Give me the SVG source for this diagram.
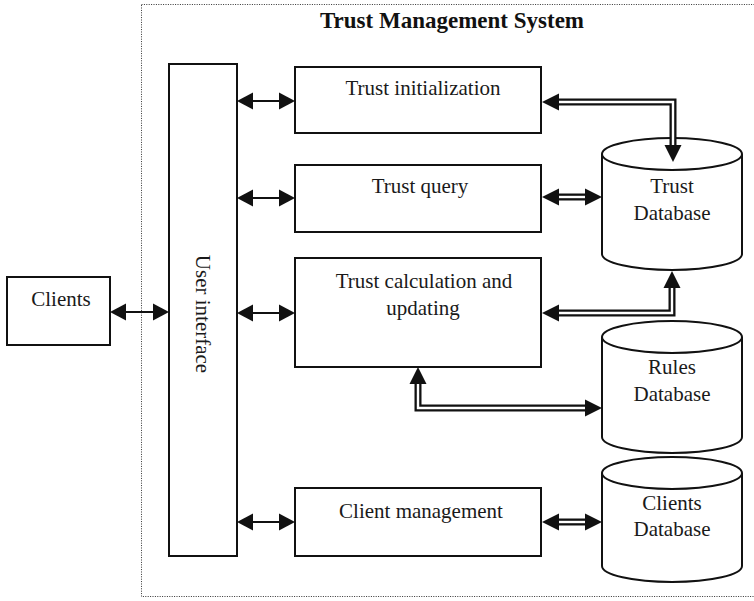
<svg xmlns="http://www.w3.org/2000/svg" width="754" height="601" viewBox="0 0 754 601">
  <defs>
    <style>
      .box { fill: #fff; stroke: #111; stroke-width: 2; }
      .db { fill: #fff; stroke: #111; stroke-width: 2; }
      .label { font-family: "Liberation Serif", "Times New Roman", serif; font-size: 21px; fill: #1a1a1a; text-anchor: middle; }
      .title { font-family: "Liberation Serif", "Times New Roman", serif; font-size: 23px; font-weight: bold; fill: #111; text-anchor: middle; }
      .frame { fill: none; stroke: #333; stroke-width: 1; stroke-dasharray: 1 1.4; }
      .single { fill: none; stroke: #111; stroke-width: 2.2; }
      .dbl-out { fill: none; stroke: #111; stroke-width: 7; stroke-linejoin: miter; }
      .dbl-in { fill: none; stroke: #fff; stroke-width: 2.4; stroke-linejoin: miter; }
      .head { fill: #111; }
    </style>
  </defs>

  <!-- system boundary -->
  <rect class="frame" x="141.5" y="4.5" width="640" height="592"/>
  <text class="title" x="452" y="28">Trust Management System</text>

  <!-- nodes -->
  <g id="clients">
    <rect class="box" x="7" y="277" width="103" height="68"/>
    <text class="label" x="61" y="306">Clients</text>
  </g>

  <g id="user-interface">
    <rect class="box" x="169" y="64" width="68" height="492"/>
    <text class="label" transform="translate(203 314) rotate(90)" y="7">User interface</text>
  </g>

  <g id="trust-initialization">
    <rect class="box" x="295" y="67" width="246" height="66"/>
    <text class="label" x="423" y="95">Trust initialization</text>
  </g>

  <g id="trust-query">
    <rect class="box" x="295" y="165" width="246" height="67"/>
    <text class="label" x="420" y="193">Trust query</text>
  </g>

  <g id="trust-calculation">
    <rect class="box" x="295" y="258" width="246" height="109"/>
    <text class="label" x="424" y="288">Trust calculation and</text>
    <text class="label" x="423" y="315">updating</text>
  </g>

  <g id="client-management">
    <rect class="box" x="295" y="488" width="246" height="68"/>
    <text class="label" x="421" y="518">Client management</text>
  </g>

  <g id="trust-database">
    <path class="db" d="M602,154 V254 A70,16 0 0 0 742,254 V154"/>
    <ellipse class="db" cx="672" cy="154" rx="70" ry="16"/>
    <text class="label" x="672" y="193">Trust</text>
    <text class="label" x="672" y="220">Database</text>
  </g>

  <g id="rules-database">
    <path class="db" d="M602,337 V437 A70,16 0 0 0 742,437 V337"/>
    <ellipse class="db" cx="672" cy="337" rx="70" ry="16"/>
    <text class="label" x="672" y="374">Rules</text>
    <text class="label" x="672" y="401">Database</text>
  </g>

  <g id="clients-database">
    <path class="db" d="M602,473 V566 A70,16 0 0 0 742,566 V473"/>
    <ellipse class="db" cx="672" cy="473" rx="70" ry="16"/>
    <text class="label" x="672" y="510">Clients</text>
    <text class="label" x="672" y="536">Database</text>
  </g>

  <!-- connectors -->
  <g id="connectors">
    <!-- single-line two-way arrows -->
    <path class="single" d="M124,312 H155 M251,101 H281 M251,198 H281 M251,313 H281 M251,522 H281"/>
    <polygon class="head" points="110,312 126,303.5 126,320.5"/>
    <polygon class="head" points="169,312 153,303.5 153,320.5"/>
    <polygon class="head" points="237,101 253,92.5 253,109.5"/>
    <polygon class="head" points="295,101 279,92.5 279,109.5"/>
    <polygon class="head" points="237,198 253,189.5 253,206.5"/>
    <polygon class="head" points="295,198 279,189.5 279,206.5"/>
    <polygon class="head" points="237,313 253,304.5 253,321.5"/>
    <polygon class="head" points="295,313 279,304.5 279,321.5"/>
    <polygon class="head" points="237,522 253,513.5 253,530.5"/>
    <polygon class="head" points="295,522 279,513.5 279,530.5"/>

    <!-- double-line arrows -->
    <path class="dbl-out" d="M556,102 H673 V147"/>
    <path class="dbl-in" d="M556,102 H673 V147"/>
    <polygon class="head" points="542,102 559,93.5 559,110.5"/>
    <polygon class="head" points="673,162 664.5,145 681.5,145"/>

    <path class="dbl-out" d="M556,197 H588"/>
    <path class="dbl-in" d="M556,197 H588"/>
    <polygon class="head" points="542,197 559,188.5 559,205.5"/>
    <polygon class="head" points="602,197 585,188.5 585,205.5"/>

    <path class="dbl-out" d="M672,286 V313 H556"/>
    <path class="dbl-in" d="M672,286 V313 H556"/>
    <polygon class="head" points="672,271 663.5,288 680.5,288"/>
    <polygon class="head" points="542,313 559,304.5 559,321.5"/>

    <path class="dbl-out" d="M418,381 V408 H588"/>
    <path class="dbl-in" d="M418,381 V408 H588"/>
    <polygon class="head" points="418,367 409.5,384 426.5,384"/>
    <polygon class="head" points="602,408 585,399.5 585,416.5"/>

    <path class="dbl-out" d="M556,522 H588"/>
    <path class="dbl-in" d="M556,522 H588"/>
    <polygon class="head" points="542,522 559,513.5 559,530.5"/>
    <polygon class="head" points="602,522 585,513.5 585,530.5"/>
  </g>
</svg>
